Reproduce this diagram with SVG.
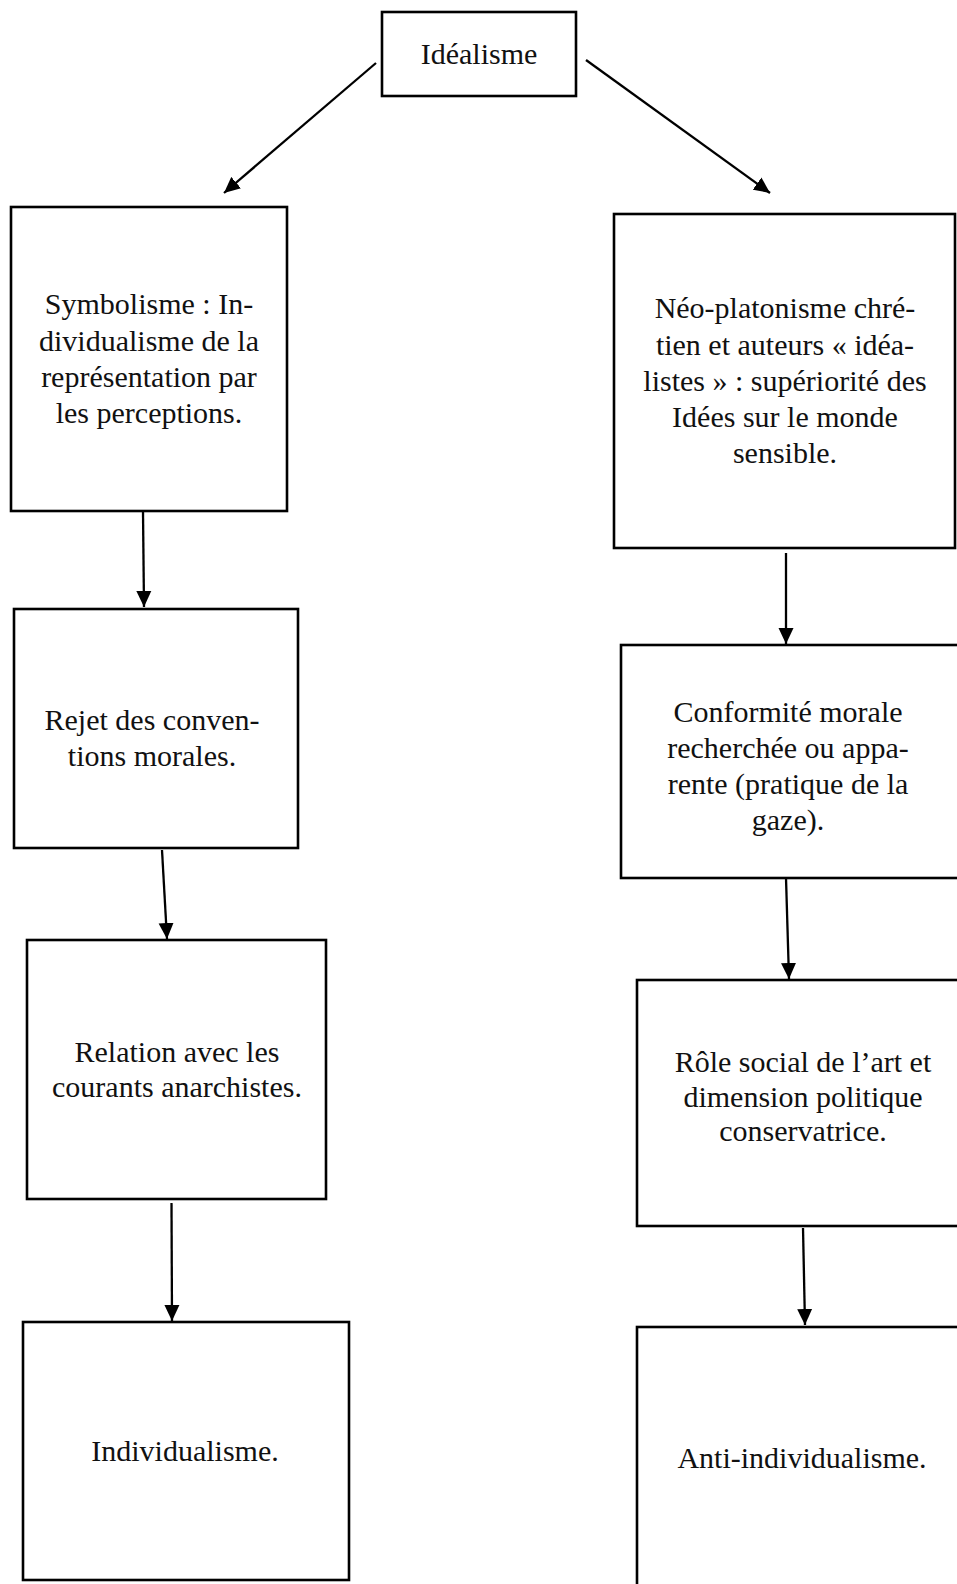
<svg xmlns="http://www.w3.org/2000/svg" width="957" height="1584" viewBox="0 0 957 1584">
<style>
.box{fill:#ffffff;stroke:#000000;stroke-width:2.6}
.lbl{font-family:"Liberation Serif","Times New Roman",serif;font-size:30px;fill:#111111;text-anchor:middle}
.conn{stroke:#000000;stroke-width:2.3;fill:none;marker-end:url(#arrow)}
</style>
<defs>
<marker id="arrow" markerUnits="userSpaceOnUse" markerWidth="17" markerHeight="16" refX="16" refY="8" orient="auto">
<path d="M0,0.5 L16,8 L0,15.5 Z" fill="#000000"/>
</marker>
</defs>
<rect width="957" height="1584" fill="#ffffff"/>
<g id="connectors">
<line class="conn" x1="376" y1="63" x2="224" y2="193"/>
<line class="conn" x1="586" y1="60" x2="770" y2="193"/>
<line class="conn" x1="143" y1="512" x2="144" y2="607"/>
<line class="conn" x1="786" y1="553" x2="786" y2="644"/>
<line class="conn" x1="162" y1="850" x2="167" y2="939"/>
<line class="conn" x1="786" y1="878" x2="789" y2="979"/>
<line class="conn" x1="171.5" y1="1203" x2="172" y2="1321"/>
<line class="conn" x1="803" y1="1228" x2="805" y2="1325"/>
</g>
<g id="idealisme">
<rect class="box" x="382" y="12" width="194" height="84"/>
<text class="lbl" x="479" y="64">Idéalisme</text>
</g>
<g id="symbolisme">
<rect class="box" x="11" y="207" width="276" height="304"/>
<text class="lbl" x="149" y="314">Symbolisme : In-</text>
<text class="lbl" x="149" y="351">dividualisme de la</text>
<text class="lbl" x="149" y="387">représentation par</text>
<text class="lbl" x="149" y="423">les perceptions.</text>
</g>
<g id="neoplatonisme">
<rect class="box" x="614" y="214" width="341" height="334"/>
<text class="lbl" x="785" y="318">Néo-platonisme chré-</text>
<text class="lbl" x="785" y="355">tien et auteurs « idéa-</text>
<text class="lbl" x="785" y="391">listes » : supériorité des</text>
<text class="lbl" x="785" y="427">Idées sur le monde</text>
<text class="lbl" x="785" y="463">sensible.</text>
</g>
<g id="rejet">
<rect class="box" x="14" y="609" width="284" height="239"/>
<text class="lbl" x="152" y="730">Rejet des conven-</text>
<text class="lbl" x="152" y="766">tions morales.</text>
</g>
<g id="conformite">
<rect class="box" x="621" y="645" width="345" height="233"/>
<text class="lbl" x="788" y="722">Conformité morale</text>
<text class="lbl" x="788" y="758">recherchée ou appa-</text>
<text class="lbl" x="788" y="794">rente (pratique de la</text>
<text class="lbl" x="788" y="830">gaze).</text>
</g>
<g id="relation">
<rect class="box" x="27" y="940" width="299" height="259"/>
<text class="lbl" x="177" y="1062">Relation avec les</text>
<text class="lbl" x="177" y="1097">courants anarchistes.</text>
</g>
<g id="role">
<rect class="box" x="637" y="980" width="330" height="246"/>
<text class="lbl" x="803" y="1072">Rôle social de l’art et</text>
<text class="lbl" x="803" y="1107">dimension politique</text>
<text class="lbl" x="803" y="1141">conservatrice.</text>
</g>
<g id="individualisme">
<rect class="box" x="23" y="1322" width="326" height="258"/>
<text class="lbl" x="185" y="1461">Individualisme.</text>
</g>
<g id="anti-individualisme">
<rect class="box" x="637" y="1327" width="330" height="270"/>
<text class="lbl" x="802" y="1468">Anti-individualisme.</text>
</g>
</svg>
